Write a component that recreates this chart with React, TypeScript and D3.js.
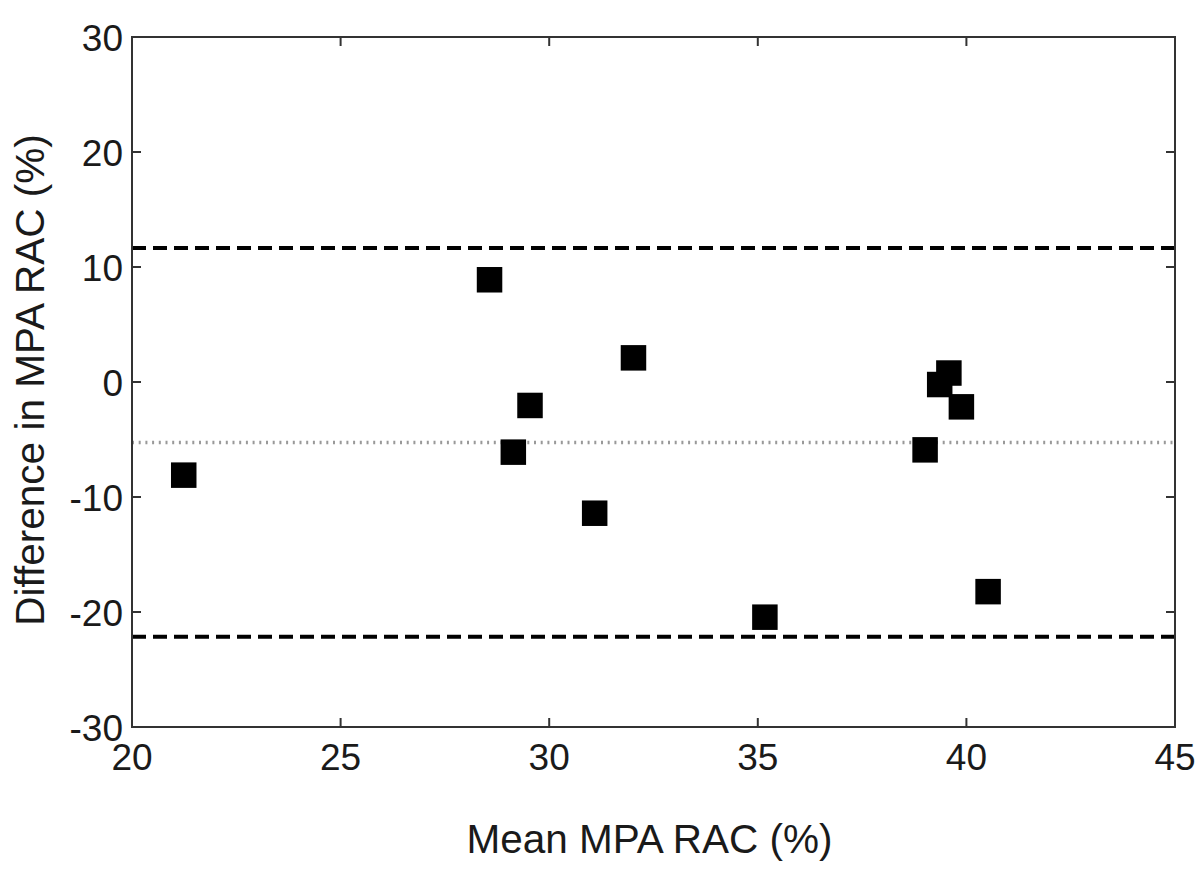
import React from "react";
import * as d3 from "d3";

const meanValues = [21.24, 28.57, 29.14, 29.54, 31.09, 32.02, 35.17, 39.01, 39.36, 39.58, 39.88, 40.52];
const diffValues = [-8.1, 8.89, -6.1, -2.04, -11.41, 2.1, -20.45, -5.9, -0.22, 0.78, -2.16, -18.23];
const meanDiff = -5.25;
const upperLimit = 11.65;
const lowerLimit = -22.15;
const xTicks = [20, 25, 30, 35, 40, 45];
const yTicks = [-30, -20, -10, 0, 10, 20, 30];
const xLabel = "Mean MPA RAC (%)";
const yLabel = "Difference in MPA RAC (%)";

export default function App() {
  const W = 1200, H = 871;
  const left = 132, right = 1175, top = 37, bottom = 727;
  const x = d3.scaleLinear().domain([20, 45]).range([left, right]);
  const y = d3.scaleLinear().domain([-30, 30]).range([bottom, top]);
  const font = "Liberation Sans, Arial, sans-serif";
  const tickLen = 9;
  const ms = 25.5;
  const axisColor = "#333";
  return (
    <svg width={W} height={H} style={{ position: "absolute", left: 0, top: 0, background: "#fff" }}>
      <rect x={0} y={0} width={W} height={H} fill="#fff" />
      {/* reference lines */}
      <line x1={left} x2={right} y1={y(upperLimit)} y2={y(upperLimit)} stroke="#000" strokeWidth={4} strokeDasharray="14 7" />
      <line x1={left} x2={right} y1={y(lowerLimit)} y2={y(lowerLimit)} stroke="#000" strokeWidth={4} strokeDasharray="14 7" />
      <line x1={left} x2={right} y1={y(meanDiff)} y2={y(meanDiff)} stroke="#999" strokeWidth={3.5} strokeDasharray="2 4.7" />
      {/* markers */}
      {meanValues.map((m, i) => (
        <rect key={i} x={x(m) - ms / 2} y={y(diffValues[i]) - ms / 2} width={ms} height={ms} fill="#000" />
      ))}
      {/* frame */}
      <rect x={left} y={top} width={right - left} height={bottom - top} fill="none" stroke={axisColor} strokeWidth={2} />
      {/* ticks */}
      {xTicks.map((t) => (
        <g key={"x" + t}>
          <line x1={x(t)} x2={x(t)} y1={bottom} y2={bottom - tickLen} stroke={axisColor} strokeWidth={2} />
          <line x1={x(t)} x2={x(t)} y1={top} y2={top + tickLen} stroke={axisColor} strokeWidth={2} />
          <text x={x(t)} y={770} textAnchor="middle" fontFamily={font} fontSize={37} fill="#1a1a1a">{t}</text>
        </g>
      ))}
      {yTicks.map((t) => (
        <g key={"y" + t}>
          <line x1={left} x2={left + tickLen} y1={y(t)} y2={y(t)} stroke={axisColor} strokeWidth={2} />
          <line x1={right} x2={right - tickLen} y1={y(t)} y2={y(t)} stroke={axisColor} strokeWidth={2} />
          <text x={123} y={y(t) + 14} textAnchor="end" fontFamily={font} fontSize={37} fill="#1a1a1a">{t}</text>
        </g>
      ))}
      <text x={(left + right) / 2 - 4} y={853} textAnchor="middle" fontFamily={font} fontSize={40.5} fill="#1a1a1a">{xLabel}</text>
      <text transform={`translate(44, ${(top + bottom) / 2 - 2}) rotate(-90)`} textAnchor="middle" fontFamily={font} fontSize={40.5} fill="#1a1a1a">{yLabel}</text>
    </svg>
  );
}
